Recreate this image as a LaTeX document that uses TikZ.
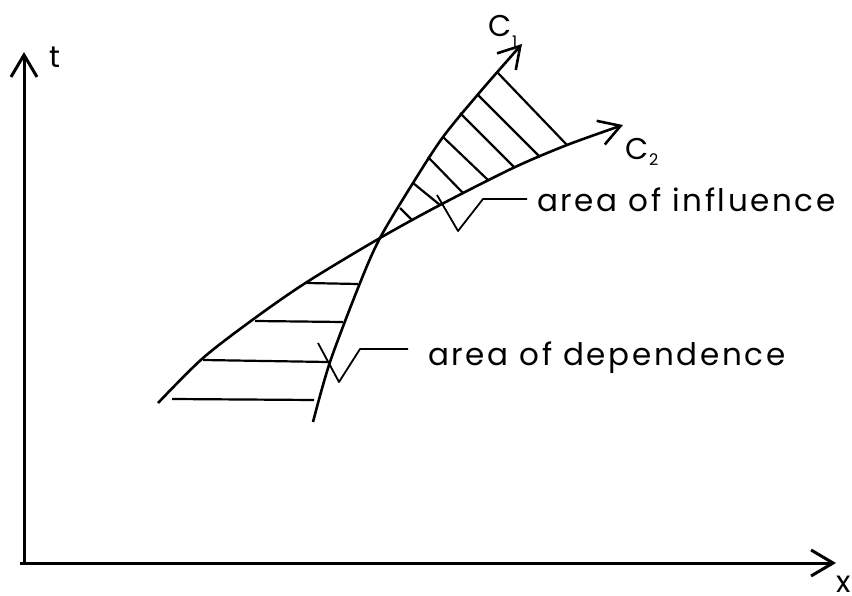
\documentclass[tikz,border=0pt]{standalone}
\usepackage{fontspec}
\setmainfont{Poppins}
\newfontfamily\widefont[LetterSpace=8.5]{Poppins}
\usetikzlibrary{arrows.meta}

\tikzset{
  axisline/.style={line width=3pt, -{Straight Barb[length=22pt,width=26pt]}},
  charline/.style={line width=2.6pt, -{Straight Barb[length=21pt,width=25pt]}},
  hatch/.style={line width=2.2pt},
  leader/.style={line width=1.8pt, line join=round},
  lbl/.style={font=\fontsize{30}{36}\selectfont, inner sep=0pt},
  arealbl/.style={font=\widefont\fontsize{31}{36}\selectfont, inner sep=0pt},
  sublbl/.style={font=\fontsize{16}{18}\selectfont, inner sep=0pt},
}

\begin{document}
\begin{tikzpicture}[x=1pt,y=-1pt]
  \useasboundingbox (0,0) rectangle (852,596);

  % axes
  \coordinate (O) at (24,563);
  \coordinate (tend) at (24,52);
  \coordinate (xstart) at (20,563);
  \coordinate (xend) at (836,563);
  \draw[axisline] (O) -- (tend);
  \draw[axisline] (xstart) -- (xend);
  \node[lbl, anchor=base west] (tlabel) at (49,68) {t};
  \node[lbl, anchor=north west] (xlabel) at (836,576) {x};

  % characteristics
  \draw[charline] plot[smooth] coordinates
    {(313,422) (330,362) (360,283) (380,238) (413,183) (443,137) (480,92) (522,44)};
  \draw[charline] plot[smooth] coordinates
    {(158,403) (203,358) (255,318) (307,282) (380,238) (440,205) (513,168) (567,145) (623,125)};
  \node[lbl, anchor=base west] (cone) at (488,37) {C};
  \node[sublbl, anchor=base west] (conesub) at (512,48) {1};
  \node[lbl, anchor=base west] (ctwo) at (625,160) {C};
  \node[sublbl, anchor=base west] (ctwosub) at (649,166) {2};

  % area of influence
  \foreach \xa/\ya/\xb/\yb in {497/72/567/145, 478/95/540/157, 460/113/515/168,
      443/137/488/180, 428/157/463/193, 413/183/440/205, 400/208/412/220}
    \draw[hatch] (\xa,\ya) -- (\xb,\yb);

  % area of dependence
  \foreach \xa/\ya/\xb/\yb in {307/283/358/284, 255/321/343/322,
      203/360/328/362, 172/399/314/400}
    \draw[hatch] (\xa,\ya) -- (\xb,\yb);

  % leaders
  \draw[leader] (437,195) -- (458,231) -- (483,199) -- (527,199) coordinate (inflend);
  \node[arealbl, anchor=base west] (infl) at (537,212) {area of influence};
  \draw[leader] (318,343) -- (339,382) -- (360,349) -- (408,349) coordinate (depend);
  \node[arealbl, anchor=base west] (dep) at (428,365) {area of dependence};
\end{tikzpicture}
\end{document}
